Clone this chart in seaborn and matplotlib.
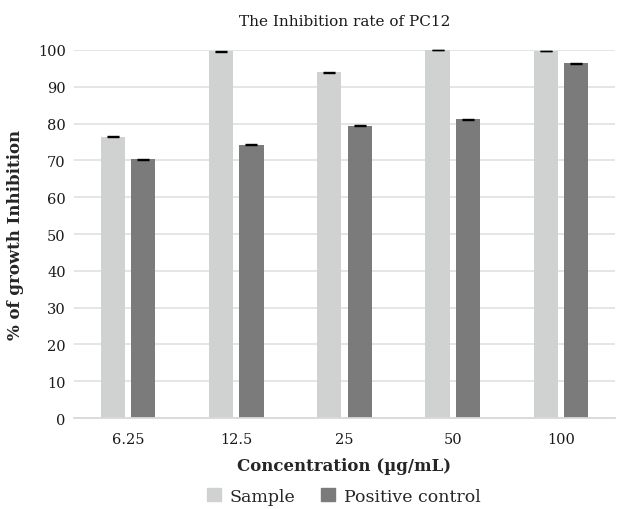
import numpy as np
import pandas as pd
import matplotlib
matplotlib.use("Agg")
import matplotlib.pyplot as plt
import seaborn as sns

concentrations = ["6.25", "12.5", "25", "50", "100"]
sample_vals = [76.4, 99.6, 93.9, 100.0, 99.7]
control_vals = [70.3, 74.3, 79.4, 81.2, 96.4]
sample_err = [0.1, 0.1, 0.1, 0.1, 0.1]
control_err = [0.1, 0.1, 0.1, 0.1, 0.1]
series_names = ["Sample", "Positive control"]

df = pd.DataFrame({
    "Concentration": concentrations * 2,
    "Inhibition": sample_vals + control_vals,
    "Err": sample_err + control_err,
    "Group": [series_names[0]] * 5 + [series_names[1]] * 5,
})

sns.set_theme(style="white")
plt.rcParams["font.family"] = ["DejaVu Serif"]

fig = plt.figure(figsize=(6.25, 5.1), dpi=100)
ax = fig.add_axes([0.1184, 0.1784, 0.8656, 0.7216])

palette = {"Sample": "#d0d2d1", "Positive control": "#7b7b7b"}
sns.barplot(data=df, x="Concentration", y="Inhibition", hue="Group",
            order=concentrations, hue_order=series_names, palette=palette,
            errorbar=None, width=0.561, gap=0.2, saturation=1, ax=ax,
            linewidth=0, legend=False)

# error bars at bar centres
for container, grp in zip(ax.containers, series_names):
    sub = df[df["Group"] == grp].set_index("Concentration").loc[concentrations]
    xs = [p.get_x() + p.get_width() / 2 for p in container.patches]
    ax.errorbar(xs, sub["Inhibition"], yerr=sub["Err"], fmt="none",
                ecolor="black", elinewidth=0.8, capsize=4, capthick=1.0,
                clip_on=False)

ax.set_ylim(0, 100)
ax.set_xlim(-0.5, 4.5)
ax.set_yticks(np.arange(0, 101, 10))
ax.yaxis.grid(True, color="#e3e3e3", linewidth=1.3)
ax.set_axisbelow(True)
for s in ["top", "right", "left"]:
    ax.spines[s].set_visible(False)
ax.spines["bottom"].set_color("#d9d9d9")
ax.spines["bottom"].set_linewidth(1.3)
ax.tick_params(axis="both", length=0, labelsize=10.5, colors="#1a1a1a", pad=6)
ax.tick_params(axis="x", pad=10)

ax.set_title("The Inhibition rate of PC12", fontsize=11, pad=18, color="#1a1a1a")
ax.set_xlabel("Concentration (µg/mL)", fontsize=12, fontweight="bold", labelpad=8)
ax.set_ylabel("% of growth Inhibition", fontsize=12, fontweight="bold", labelpad=10)

handles = [plt.Rectangle((0, 0), 1, 1, color=palette[n]) for n in series_names]
fig.legend(handles, series_names, loc="lower center", ncol=2, frameon=False,
           fontsize=12.5, handlelength=0.8, handleheight=0.8, columnspacing=1.5,
           handletextpad=0.5, bbox_to_anchor=(0.55, -0.022))

fig.savefig("out.png", dpi=100)
